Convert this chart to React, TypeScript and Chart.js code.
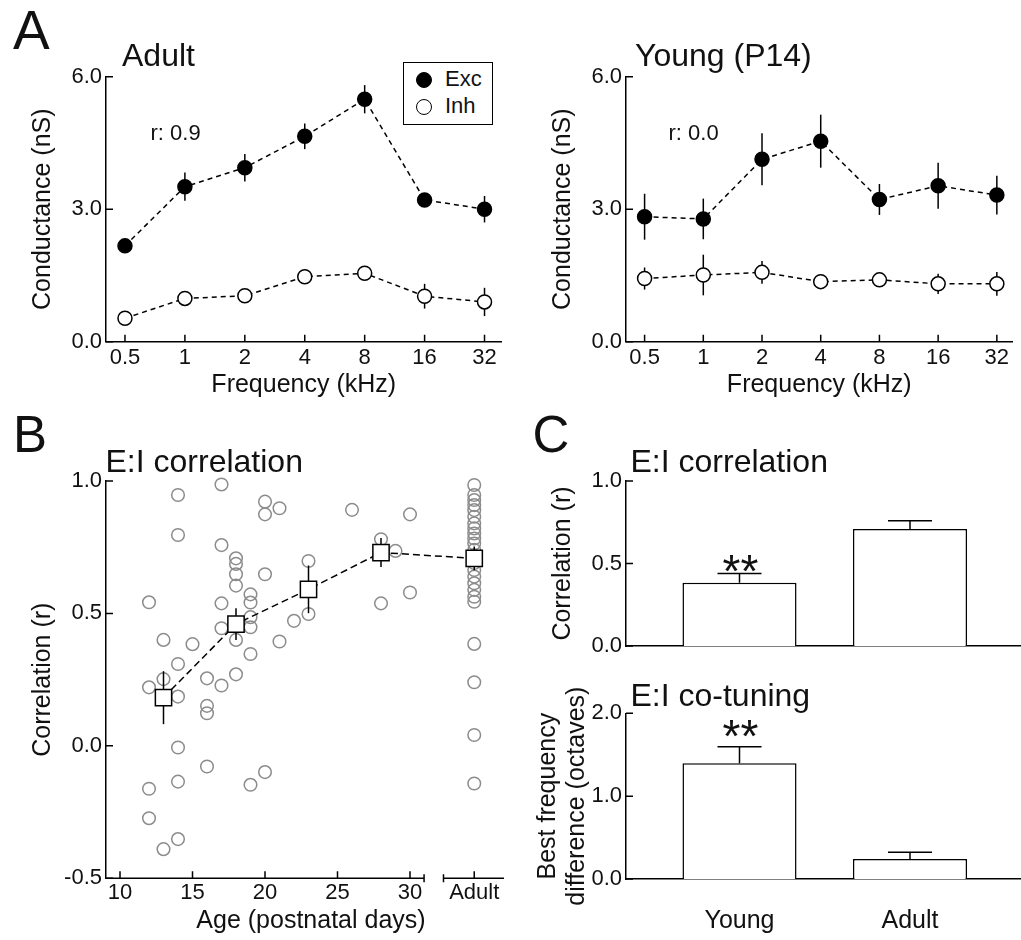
import React, { useEffect, useRef } from 'react';
import { Chart, registerables } from 'chart.js';

Chart.register(...registerables);

const FONT = "'Liberation Sans', Arial, Helvetica, sans-serif";
const INK = '#111';

// ---------- Panel A : conductance tuning ----------
const FREQ_LABELS = ['0.5', '1', '2', '4', '8', '16', '32'];
const FREQ_INDEX = [0, 1, 2, 3, 4, 5, 6];
const COND_TICKS = [0, 3, 6];

const ADULT_EXC = [2.17, 3.51, 3.94, 4.65, 5.49, 3.21, 3.0];
const ADULT_EXC_ERR = [0.15, 0.32, 0.31, 0.29, 0.32, 0.15, 0.3];
const ADULT_INH = [0.53, 0.98, 1.04, 1.47, 1.55, 1.03, 0.9];
const ADULT_INH_ERR = [0.1, 0.12, 0.12, 0.12, 0.15, 0.28, 0.32];

const YOUNG_EXC = [2.83, 2.78, 4.13, 4.54, 3.22, 3.53, 3.32];
const YOUNG_EXC_ERR = [0.52, 0.46, 0.59, 0.6, 0.35, 0.52, 0.44];
const YOUNG_INH = [1.43, 1.51, 1.57, 1.36, 1.4, 1.31, 1.31];
const YOUNG_INH_ERR = [0.25, 0.46, 0.26, 0.12, 0.12, 0.23, 0.27];

// ---------- Panel B : E:I correlation vs age ----------
const AGE_TICKS = [10, 15, 20, 25, 30];
const ADULT_POS = 34.43; // where the "Adult" category sits on the age axis
const AXIS_BREAK = [30.97, 32.31];
const AXIS_END = 36.48;
const CORR_TICKS = [-0.5, 0, 0.5, 1.0];

const CELL_AGES = [
  12, 12, 12, 12, 13, 13, 13, 14, 14, 14, 14, 14, 14, 14, 15, 16, 16, 16, 16,
  17, 17, 17, 17, 17, 18, 18, 18, 18, 18, 18, 19, 19, 19, 19, 19, 19, 20, 20,
  20, 20, 21, 21, 22, 23, 23, 26, 28, 28, 29, 30, 30,
];
const CELL_R = [
  0.542, 0.221, -0.162, -0.273, 0.4, 0.252, -0.39, 0.947, 0.796, 0.309, 0.186,
  -0.006, -0.135, -0.352, 0.384, 0.255, 0.151, 0.123, -0.078, 0.987, 0.758,
  0.538, 0.444, 0.228, 0.708, 0.687, 0.648, 0.605, 0.4, 0.27, 0.572, 0.541,
  0.486, 0.448, 0.347, -0.147, 0.922, 0.874, 0.648, -0.099, 0.897, 0.394,
  0.472, 0.698, 0.498, 0.891, 0.78, 0.538, 0.736, 0.874, 0.579,
];
const ADULT_CELL_R = [
  0.985, 0.947, 0.928, 0.909, 0.89, 0.865, 0.84, 0.821, 0.802, 0.783, 0.764,
  0.74, 0.72, 0.69, 0.664, 0.639, 0.614, 0.589, 0.563, 0.544, 0.385, 0.24,
  0.041, -0.142,
];
const MEAN_AGES = [13, 18, 23, 28];
const MEAN_R = [0.182, 0.46, 0.591, 0.73, 0.708]; // last = adult
const MEAN_ERR = [0.1, 0.06, 0.09, 0.055, 0.045];

// ---------- Panel C : group comparison ----------
const GROUPS = ['Young', 'Adult'];
const GROUP_POS = [0, 1];
const CORR_MEAN = [0.384, 0.709];
const CORR_SEM = [0.056, 0.05];
const CORR_C_TICKS = [0, 0.5, 1.0];
const BFD_MEAN = [1.396, 0.241];
const BFD_SEM = [0.2, 0.081];
const BFD_TICKS = [0, 1, 2];

// ---------- helpers ----------
type Geo = { cl: number; ct: number; cw: number; ch: number; L: number; R: number; T: number; B: number };

function drawErr(chart: any, idx: number, errs: number[], cap: number, upOnly: boolean) {
  const ds = chart.data.datasets[idx];
  const xs = chart.scales.x;
  const ys = chart.scales.y;
  const ctx = chart.ctx;
  ctx.save();
  ctx.strokeStyle = '#000';
  ctx.lineWidth = 1.5;
  ctx.setLineDash([]);
  ds.data.forEach((p: any, i: number) => {
    const e = errs[i];
    if (!e) return;
    const px = xs.getPixelForValue(p.x);
    const pt = ys.getPixelForValue(p.y + e);
    const pb = ys.getPixelForValue(upOnly ? p.y : p.y - e);
    ctx.beginPath();
    ctx.moveTo(px, pb);
    ctx.lineTo(px, pt);
    if (cap > 0) {
      ctx.moveTo(px - cap, pt);
      ctx.lineTo(px + cap, pt);
    }
    ctx.stroke();
  });
  ctx.restore();
}

function drawInTicks(chart: any, axes: string[], len: number) {
  const ctx = chart.ctx;
  const a = chart.chartArea;
  ctx.save();
  ctx.strokeStyle = '#000';
  ctx.lineWidth = 1.5;
  ctx.setLineDash([]);
  ctx.beginPath();
  if (axes.includes('x')) {
    chart.scales.x.ticks.forEach((t: any) => {
      const p = chart.scales.x.getPixelForValue(t.value);
      ctx.moveTo(p, a.bottom);
      ctx.lineTo(p, a.bottom - len);
    });
  }
  if (axes.includes('y')) {
    chart.scales.y.ticks.forEach((t: any) => {
      const p = chart.scales.y.getPixelForValue(t.value);
      ctx.moveTo(a.left, p);
      ctx.lineTo(a.left + len, p);
    });
  }
  ctx.stroke();
  ctx.restore();
}

function drawBrokenX(chart: any) {
  const ctx = chart.ctx;
  const xs = chart.scales.x;
  const y = chart.chartArea.bottom;
  const p0 = chart.chartArea.left;
  const p1 = xs.getPixelForValue(AXIS_BREAK[0]);
  const p2 = xs.getPixelForValue(AXIS_BREAK[1]);
  const p3 = xs.getPixelForValue(AXIS_END);
  ctx.save();
  ctx.strokeStyle = '#000';
  ctx.lineWidth = 1.5;
  ctx.setLineDash([]);
  ctx.beginPath();
  ctx.moveTo(p0, y);
  ctx.lineTo(p1, y);
  ctx.moveTo(p1, y - 4);
  ctx.lineTo(p1, y + 4);
  ctx.moveTo(p2, y);
  ctx.lineTo(p3, y);
  ctx.moveTo(p2, y - 4);
  ctx.lineTo(p2, y + 4);
  ctx.stroke();
  ctx.restore();
}

function sciPlugin(id: string, cfg: { errs?: (number[] | null)[]; upOnly?: boolean; cap?: number; tickAxes: string[]; broken?: boolean }) {
  return {
    id,
    beforeDatasetDraw(chart: any, args: any) {
      if (cfg.upOnly || !cfg.errs) return;
      const e = cfg.errs[args.index];
      if (e) drawErr(chart, args.index, e, cfg.cap || 0, false);
    },
    afterDatasetsDraw(chart: any) {
      if (!cfg.upOnly || !cfg.errs) return;
      cfg.errs.forEach((e, i) => {
        if (e) drawErr(chart, i, e, cfg.cap || 0, true);
      });
    },
    afterDraw(chart: any) {
      if (cfg.broken) drawBrokenX(chart);
      drawInTicks(chart, cfg.tickAxes, 7);
    },
  };
}

function yAxis(g: Geo, min: number, max: number, ticks: number[], title: string | string[], titleX: number, titleLH = 25) {
  return {
    type: 'linear',
    position: 'left',
    min,
    max,
    afterBuildTicks: (s: any) => {
      s.ticks = ticks.map((v) => ({ value: v }));
    },
    afterFit: (s: any) => {
      s.width = g.L - g.cl;
    },
    grid: { display: false, drawTicks: false },
    border: { display: true, color: '#000', width: 1.5 },
    ticks: {
      padding: 4,
      color: INK,
      autoSkip: false,
      font: { family: FONT, size: 22 },
      callback: (v: any) => Number(v).toFixed(1),
    },
    title: {
      display: true,
      text: title,
      color: INK,
      font: { family: FONT, size: 25, lineHeight: titleLH / 25 },
      padding: { top: titleX - g.cl - titleLH / 2, bottom: 0 },
    },
  };
}

function xAxis(
  g: Geo,
  min: number,
  max: number,
  ticks: number[],
  label: (v: number, i: number) => string,
  opts: { title?: string; titleY?: number; tickSize?: number; tickCenterY?: number; showTicks?: boolean; border?: boolean },
) {
  const tickSize = opts.tickSize || 22;
  const showTicks = opts.showTicks !== false;
  const pad = opts.tickCenterY ? opts.tickCenterY - g.B - tickSize * 0.6 : 3;
  return {
    type: 'linear',
    position: 'bottom',
    min,
    max,
    offset: false,
    afterBuildTicks: (s: any) => {
      s.ticks = ticks.map((v) => ({ value: v }));
    },
    afterFit: (s: any) => {
      s.height = g.ct + g.ch - g.B;
    },
    grid: { display: false, drawTicks: false },
    border: { display: opts.border !== false, color: '#000', width: 1.5 },
    ticks: {
      display: showTicks,
      padding: pad,
      color: INK,
      autoSkip: false,
      maxRotation: 0,
      font: { family: FONT, size: tickSize },
      callback: (v: any, i: number) => label(Number(v), i),
    },
    title: opts.title
      ? {
          display: true,
          text: opts.title,
          color: INK,
          font: { family: FONT, size: 25, lineHeight: 1 },
          padding: { top: 0, bottom: g.ct + g.ch - (opts.titleY || 0) - 12.5 },
        }
      : { display: false },
  };
}

function baseOptions(g: Geo, scales: any) {
  return {
    responsive: false,
    animation: false,
    events: [],
    layout: { padding: { left: 0, top: g.T - g.ct, right: g.cl + g.cw - g.R, bottom: 0 } },
    plugins: { legend: { display: false }, tooltip: { enabled: false }, title: { display: false } },
    scales,
  };
}

function tuningDataset(vals: number[], filled: boolean) {
  return {
    data: vals.map((v, i) => ({ x: FREQ_INDEX[i], y: v })),
    showLine: true,
    borderColor: '#000',
    borderWidth: 1.5,
    borderDash: [5, 4],
    pointRadius: 7,
    pointStyle: 'circle',
    pointBackgroundColor: filled ? '#000' : '#fff',
    pointBorderColor: '#000',
    pointBorderWidth: 1.5,
    clip: false,
  };
}

function buildTuning(g: Geo, exc: number[], excErr: number[], inh: number[], inhErr: number[], titleX: number, id: string) {
  const minX = (g.L - (g.L + 19)) / 60; // axis begins a bit before the first frequency
  const maxX = (g.R - (g.L + 19)) / 60;
  return {
    type: 'scatter',
    data: { datasets: [tuningDataset(exc, true), tuningDataset(inh, false)] },
    options: baseOptions(g, {
      x: xAxis(g, minX, maxX, FREQ_INDEX, (_v, i) => FREQ_LABELS[i], {
        title: 'Frequency (kHz)',
        titleY: 385,
        tickCenterY: 358,
      }),
      y: yAxis(g, 0, 6, COND_TICKS, 'Conductance (nS)', titleX),
    }),
    plugins: [sciPlugin(id, { errs: [excErr, inhErr], tickAxes: ['x', 'y'] })],
  };
}

const GEO_A1: Geo = { cl: 0, ct: 55, cw: 510, ch: 355, L: 106, R: 502, T: 76.7, B: 341.7 };
const GEO_A2: Geo = { cl: 510, ct: 55, cw: 511, ch: 355, L: 626, R: 1021, T: 76.7, B: 341.7 };
const GEO_B: Geo = { cl: 0, ct: 440, cw: 530, ch: 500, L: 106, R: 516, T: 481, B: 878.3 };
const GEO_C1: Geo = { cl: 520, ct: 440, cw: 501, ch: 228, L: 626, R: 1021, T: 481, B: 646 };
const GEO_C2: Geo = { cl: 520, ct: 670, cw: 501, ch: 270, L: 626, R: 1021, T: 713.3, B: 879 };

function buildA1(g: Geo) {
  return buildTuning(g, ADULT_EXC, ADULT_EXC_ERR, ADULT_INH, ADULT_INH_ERR, 43, 'sciA1');
}
function buildA2(g: Geo) {
  return buildTuning(g, YOUNG_EXC, YOUNG_EXC_ERR, YOUNG_INH, YOUNG_INH_ERR, 563, 'sciA2');
}

function buildB(g: Geo) {
  const pxPerDay = 14.5;
  const minX = 10 - (120 - g.L) / pxPerDay;
  const maxX = 10 + (g.R - 120) / pxPerDay;
  const meanX = [...MEAN_AGES, ADULT_POS];
  const means = {
    data: MEAN_R.map((v, i) => ({ x: meanX[i], y: v })),
    showLine: true,
    borderColor: '#000',
    borderWidth: 1.5,
    borderDash: [7, 4],
    pointStyle: 'rect',
    pointRadius: 11.5,
    pointBackgroundColor: '#fff',
    pointBorderColor: '#000',
    pointBorderWidth: 1.5,
    clip: false,
  };
  const cells = {
    data: [
      ...CELL_R.map((v, i) => ({ x: CELL_AGES[i], y: v })),
      ...ADULT_CELL_R.map((v) => ({ x: ADULT_POS, y: v })),
    ],
    showLine: false,
    pointStyle: 'circle',
    pointRadius: 6.3,
    pointBackgroundColor: 'rgba(0,0,0,0)',
    pointBorderColor: '#8c8c8c',
    pointBorderWidth: 1.5,
    clip: false,
  };
  return {
    type: 'scatter',
    data: { datasets: [means, cells] },
    options: baseOptions(g, {
      x: xAxis(g, minX, maxX, [...AGE_TICKS, ADULT_POS], (v) => (v === ADULT_POS ? 'Adult' : String(v)), {
        title: 'Age (postnatal days)',
        titleY: 921,
        tickCenterY: 893,
        border: false,
      }),
      y: yAxis(g, -0.5, 1.0, CORR_TICKS, 'Correlation (r)', 43),
    }),
    plugins: [sciPlugin('sciB', { errs: [MEAN_ERR, null], tickAxes: ['x', 'y'], broken: true })],
  };
}

function barDataset(vals: number[]) {
  return {
    data: vals.map((v, i) => ({ x: GROUP_POS[i], y: v })),
    backgroundColor: '#fff',
    borderColor: '#000',
    borderWidth: 1.5,
    barPercentage: 0.669,
    categoryPercentage: 1,
  };
}

function groupRange(g: Geo) {
  const px = 170.5;
  const first = 739.5;
  return [(g.L - first) / px, (g.R - first) / px];
}

function buildC1(g: Geo) {
  const [mn, mx] = groupRange(g);
  return {
    type: 'bar',
    data: { datasets: [barDataset(CORR_MEAN)] },
    options: baseOptions(g, {
      x: xAxis(g, mn, mx, GROUP_POS, (_v, i) => GROUPS[i], { showTicks: false }),
      y: yAxis(g, 0, 1, CORR_C_TICKS, 'Correlation (r)', 563),
    }),
    plugins: [sciPlugin('sciC1', { errs: [CORR_SEM], upOnly: true, cap: 22, tickAxes: ['y'] })],
  };
}

function buildC2(g: Geo) {
  const [mn, mx] = groupRange(g);
  return {
    type: 'bar',
    data: { datasets: [barDataset(BFD_MEAN)] },
    options: baseOptions(g, {
      x: xAxis(g, mn, mx, GROUP_POS, (_v, i) => GROUPS[i], { tickSize: 25, tickCenterY: 921 }),
      y: yAxis(g, 0, 2, BFD_TICKS, ['Best frequency', 'difference (octaves)'], 548.5, 28.5),
    }),
    plugins: [sciPlugin('sciC2', { errs: [BFD_SEM], upOnly: true, cap: 22, tickAxes: ['y'] })],
  };
}

function ChartCanvas({ geo, build }: { geo: Geo; build: (g: Geo) => any }) {
  const ref = useRef<HTMLCanvasElement | null>(null);
  useEffect(() => {
    if (!ref.current) return;
    const chart = new Chart(ref.current, build(geo));
    return () => chart.destroy();
  }, []);
  return (
    <div style={{ position: 'absolute', left: geo.cl, top: geo.ct, width: geo.cw, height: geo.ch }}>
      <canvas ref={ref} width={geo.cw} height={geo.ch} style={{ width: geo.cw, height: geo.ch, display: 'block' }} />
    </div>
  );
}

function Txt({ x, y, fs, children, center }: { x: number; y: number; fs: number; children: React.ReactNode; center?: boolean }) {
  return (
    <div
      style={{
        position: 'absolute',
        left: center ? x - 100 : x,
        width: center ? 200 : undefined,
        textAlign: center ? 'center' : 'left',
        top: y - 0.8465 * fs,
        fontSize: fs,
        lineHeight: `${fs}px`,
        fontFamily: FONT,
        color: INK,
        whiteSpace: 'nowrap',
      }}
    >
      {children}
    </div>
  );
}

function Dot({ cx, cy, filled }: { cx: number; cy: number; filled: boolean }) {
  return (
    <div
      style={{
        position: 'absolute',
        left: cx - 8,
        top: cy - 8,
        width: 16,
        height: 16,
        boxSizing: 'border-box',
        borderRadius: '50%',
        border: '1.5px solid #000',
        background: filled ? '#000' : '#fff',
      }}
    />
  );
}

export default function App() {
  return (
    <div style={{ position: 'absolute', left: 0, top: 0, width: 1021, height: 940, background: '#fff', overflow: 'hidden' }}>
      <ChartCanvas geo={GEO_A1} build={buildA1} />
      <ChartCanvas geo={GEO_A2} build={buildA2} />
      <ChartCanvas geo={GEO_B} build={buildB} />
      <ChartCanvas geo={GEO_C1} build={buildC1} />
      <ChartCanvas geo={GEO_C2} build={buildC2} />

      <Txt x={13} y={50} fs={55}>A</Txt>
      <Txt x={122} y={66} fs={32}>Adult</Txt>
      <Txt x={635} y={66} fs={32}>Young (P14)</Txt>
      <Txt x={150.5} y={141} fs={22}>r: 0.9</Txt>
      <Txt x={668.5} y={141} fs={22}>r: 0.0</Txt>

      <div
        style={{
          position: 'absolute',
          left: 403,
          top: 62,
          width: 90,
          height: 63,
          boxSizing: 'border-box',
          border: '1.5px solid #000',
          background: '#fff',
        }}
      />
      <Dot cx={424} cy={80} filled />
      <Dot cx={424} cy={107} filled={false} />
      <Txt x={445} y={87} fs={22}>Exc</Txt>
      <Txt x={445} y={114} fs={22}>Inh</Txt>

      <Txt x={13} y={452} fs={51}>B</Txt>
      <Txt x={105.5} y={472} fs={32}>E:I correlation</Txt>

      <Txt x={532.5} y={452} fs={51}>C</Txt>
      <Txt x={630.5} y={472} fs={32}>E:I correlation</Txt>
      <Txt x={630.5} y={706} fs={32}>E:I co-tuning</Txt>
      <Txt x={740.5} y={587} fs={46} center>**</Txt>
      <Txt x={740.5} y={752} fs={46} center>**</Txt>
    </div>
  );
}
